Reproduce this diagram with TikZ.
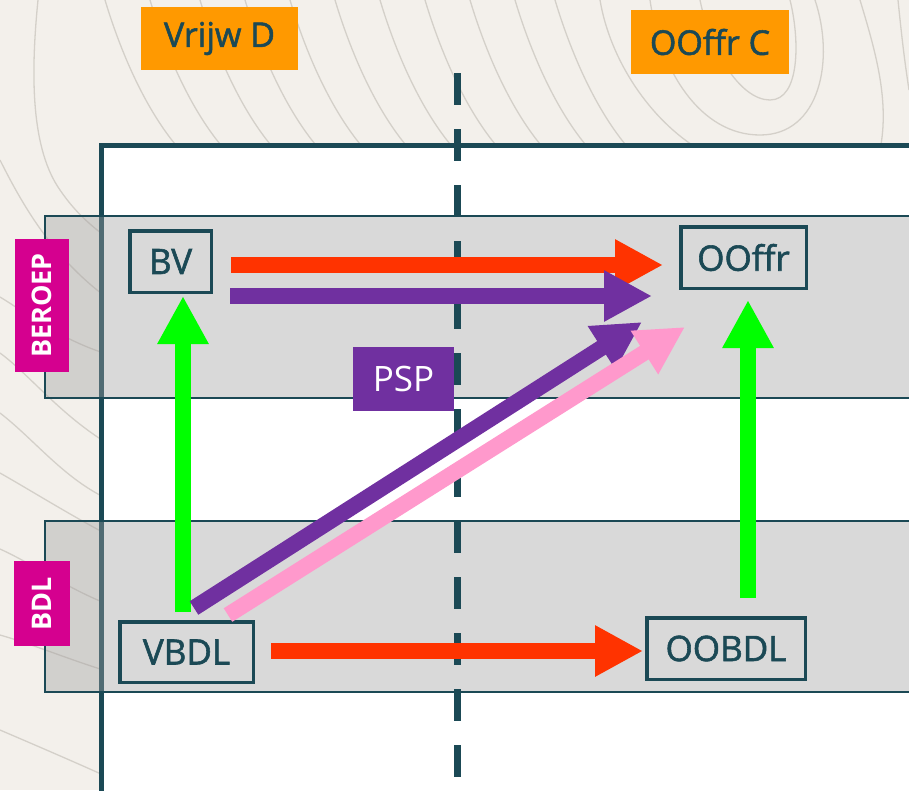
\documentclass[tikz,border=0pt]{standalone}
\usepackage{fontspec}
\setmainfont{Open Sans}
\newfontfamily\labelfont[FakeBold=1.6]{Open Sans}
\usetikzlibrary{arrows.meta,calc}
\definecolor{dkteal}{RGB}{27,73,85}
\definecolor{bgbeige}{RGB}{243,240,235}
\definecolor{contourgray}{RGB}{212,208,201}
\definecolor{orng}{RGB}{255,153,0}
\definecolor{magen}{RGB}{213,0,143}
\definecolor{purp}{RGB}{112,48,160}
\definecolor{redo}{RGB}{255,51,0}
\definecolor{grn}{RGB}{0,255,0}
\definecolor{pnk}{RGB}{255,153,204}
\definecolor{bandgray}{RGB}{160,160,160}
\tikzset{
  contour/.style={draw=contourgray, line width=1.3pt},
  boxnode/.style={draw=dkteal, line width=3.5pt, inner sep=0pt, text=dkteal, font=\labelfont\fontsize{35}{40}\selectfont},
  toptag/.style={fill=orng, inner sep=0pt, text=dkteal, font=\labelfont\fontsize{34}{40}\selectfont},
  bandtag/.style={fill=magen, inner sep=0pt, text=white, font=\bfseries\fontsize{27}{32}\selectfont},
  band/.style={fill=bandgray, fill opacity=0.4, draw=dkteal, line width=1.5pt},
  blockarrow/.style={line width=16pt, -{Triangle[length=48pt,width=48pt]}},
}
\begin{document}
\begin{tikzpicture}[x=1pt,y=-1pt]
\useasboundingbox (0,0) rectangle (909,790);
\clip (0,0) rectangle (909,790);
\fill[bgbeige] (0,0) rectangle (909,790);
% contour lines
\begin{scope}[contour]
\draw (38,0) .. controls (30,80) and (32,150) .. (60,190) .. controls (75,212) and (90,225) .. (110,240);
\draw (0,160) .. controls (25,210) and (55,260) .. (110,300);
\draw (0,297) .. controls (25,312) and (60,340) .. (110,355);
\draw (0,353) .. controls (30,375) and (60,415) .. (110,445);
\draw (0,413) .. controls (35,440) and (65,480) .. (110,500);
\draw (0,473) .. controls (30,490) and (70,515) .. (110,536);
\draw (0,549) .. controls (35,565) and (70,590) .. (110,605);
\draw (0,635) .. controls (35,645) and (70,660) .. (110,672);
\draw (0,730) .. controls (35,745) and (70,760) .. (110,778);
\foreach \a in {105,150,200,245,290,335,380,425,470,515,555}
  \draw (\a,0) .. controls ({\a+15},50) and ({\a+40},110) .. ({\a+75},150);
\draw (600,0) .. controls (610,60) and (650,120) .. (700,150);
\draw (650,0) .. controls (660,70) and (700,135) .. (760,135) .. controls (820,135) and (835,60) .. (815,0);
\draw (700,0) .. controls (710,50) and (740,100) .. (770,100) .. controls (800,100) and (800,40) .. (790,0);
\draw (860,0) .. controls (875,50) and (890,100) .. (880,150);
\draw (898,0) .. controls (903,50) and (906,70) .. (909,90);
\end{scope}
% main panel
\draw[dkteal, line width=5pt, fill=white] (101.5,145.5) rectangle (960,850);
% bands
\path[band] (45,216) rectangle (960,398);
\path[band] (45,521) rectangle (960,692);
% dashed divider
\coordinate (divtop) at (457,73);
\coordinate (divbot) at (457,777);
\draw[dkteal, line width=7pt, dash pattern=on 32pt off 24pt] (divtop) -- (divbot);
% tags
\node[toptag, minimum width=157pt, minimum height=63pt] (tagd) at (219.5,38.5) {Vrijw D};
\node[toptag, minimum width=158pt, minimum height=64pt] (tagc) at (710,42) {OOffr C};
\node[bandtag, rotate=90, minimum width=133pt, minimum height=54pt] (beroep) at (42,305.5) {BEROEP};
\node[bandtag, rotate=90, minimum width=85pt, minimum height=56pt] (bdl) at (42,603.5) {BDL};
\node[fill=purp, inner sep=0pt, text=white, font=\fontsize{35}{40}\selectfont, minimum width=101pt, minimum height=64pt] (psp) at (403.5,379) {PSP};
% boxes
\node[boxnode, minimum width=81.5pt, minimum height=61.5pt] (bv) at (170.5,261.5) {BV};
\node[boxnode, minimum width=125.5pt, minimum height=61.5pt] (oof) at (743.5,257.5) {OOffr};
\node[boxnode, minimum width=133.5pt, minimum height=60.5pt] (vbdl) at (186.5,652) {VBDL};
\node[boxnode, minimum width=158.5pt, minimum height=61.5pt] (oobdl) at (726,648.5) {OOBDL};
% arrows
\draw[blockarrow, grn] ($(vbdl.north)+(-3.5,-8)$) -- ($(bv.south)+(12.5,2)$);
\draw[blockarrow, grn] ($(oobdl.north)+(22,-18)$) -- ($(oof.south)+(4.5,10)$);
\draw[blockarrow, redo] ($(bv.east)+(18,3.5)$) -- ($(oof.west)+(-16,7.5)$);
\draw[blockarrow, purp] ($(bv.east)+(17,34.5)$) -- ($(oof.west)+(-27,38.5)$);
\draw[blockarrow, redo] ($(vbdl.east)+(16,-1)$) -- ($(oobdl.west)+(-2,2.5)$);
\draw[blockarrow, purp] ($(vbdl.north)+(7.5,-12)$) -- ($(oof.south west)+(-37,32)$);
\draw[blockarrow, pnk] ($(vbdl.north)+(41.5,-5)$) -- ($(oof.south west)+(6,37)$);
\end{tikzpicture}
\end{document}
